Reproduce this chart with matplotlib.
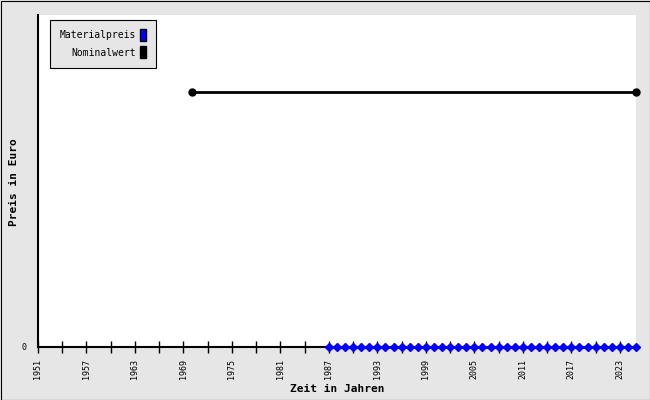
import numpy as np
import matplotlib.pyplot as plt
from matplotlib.patches import Patch, Rectangle

years_material = list(range(1987, 2026))
material = [0] * len(years_material)

years_nominal = [1970, 2025]
nominal = [1.0, 1.0]

tick_years = list(range(1951, 2026, 3))
label_years = list(range(1951, 2026, 6))

plt.rcParams['font.family'] = ['DejaVu Sans Mono']

fig = plt.figure(figsize=(6.5, 4), dpi=100, facecolor='#e6e6e6')
fig.patches.append(Rectangle((0.5 / 650, 0.5 / 400), 649 / 650, 399 / 400,
                             transform=fig.transFigure, fill=False,
                             edgecolor='black', lw=0.8))
ax = fig.add_axes([38 / 650, 1 - 347 / 400, (636 - 38) / 650, (347 - 15) / 400])
ax.set_facecolor('white')

ax.plot(years_nominal, nominal, color='black', lw=2, marker='o', ms=5, zorder=3,
        clip_on=False)
ax.plot(years_material, material, color='#0000ff', lw=2, marker='D', ms=4,
        clip_on=False, zorder=4)

ax.set_xlim(1951, 2025)
ax.set_ylim(0, 1.302)
ax.set_xticks(tick_years)
ax.set_xticklabels([str(y) if y in label_years else '' for y in tick_years],
                   rotation=90, fontsize=6)
ax.set_yticks([0])
ax.set_yticklabels(['0'], fontsize=6)
ax.tick_params(axis='x', direction='inout', length=9, width=1, pad=4)
ax.tick_params(axis='y', direction='inout', length=0, pad=8)

for s in ['top', 'right']:
    ax.spines[s].set_visible(False)
ax.spines['left'].set_linewidth(1.5)
ax.spines['bottom'].set_linewidth(1.5)

ax.set_xlabel('Zeit in Jahren', fontsize=8, fontweight='bold', labelpad=4)
ax.set_ylabel('Preis in Euro', fontsize=8, fontweight='bold')
ax.yaxis.set_label_coords(-0.032, 0.497)

handles = [Patch(facecolor='#0000ff', edgecolor='black'),
           Patch(facecolor='black', edgecolor='black')]
leg = ax.legend(handles, ['Materialpreis', 'Nominalwert'], loc='upper left',
                markerfirst=False, fontsize=7, handlelength=0.6, handleheight=1.5,
                handletextpad=0.5, labelspacing=0.55, borderpad=0.95,
                borderaxespad=0, fancybox=False, framealpha=1,
                bbox_to_anchor=(0.02, 0.985))
leg.get_frame().set_facecolor('#e6e6e6')
leg.get_frame().set_edgecolor('black')
leg.get_frame().set_linewidth(0.8)
for t in leg.get_texts():
    t.set_ha('right')

fig.savefig('out.png', dpi=100, facecolor=fig.get_facecolor())
